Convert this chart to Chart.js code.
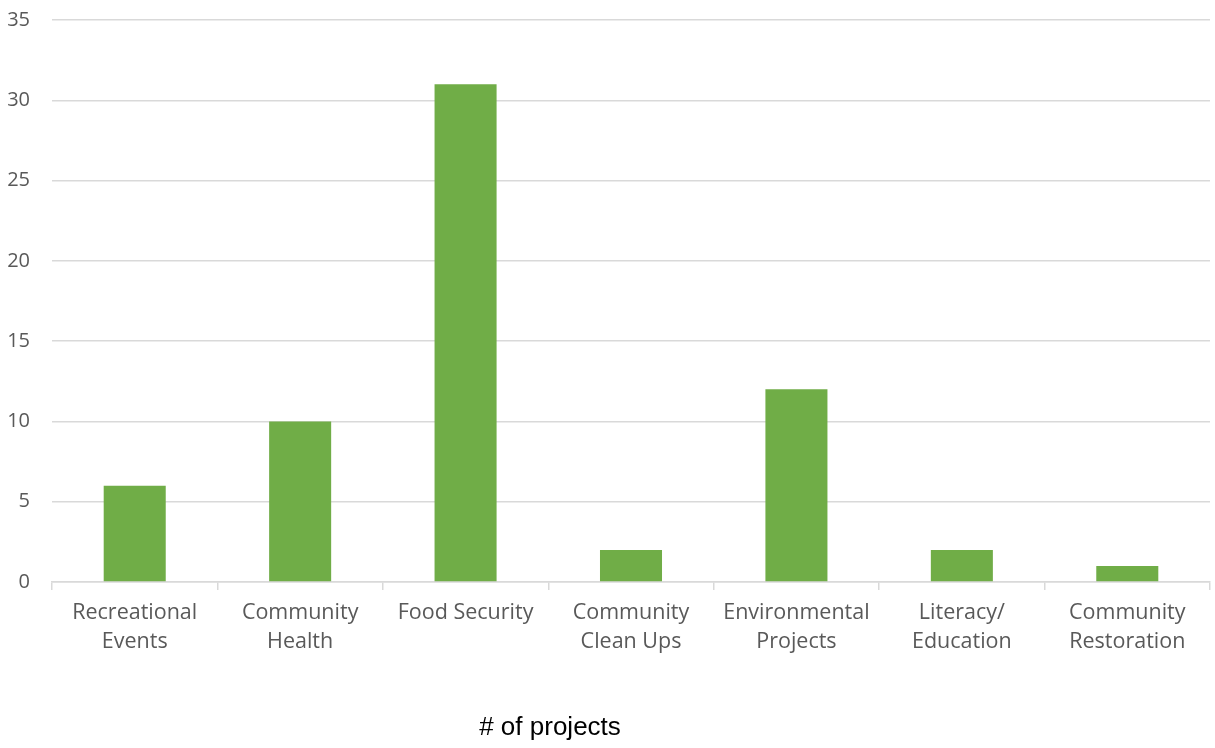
<!DOCTYPE html>
<html>
<head>
<meta charset="utf-8">
<script src="https://cdn.jsdelivr.net/npm/chart.js@4"></script>
<style>
  html, body { margin: 0; padding: 0; background: #fff; }
  #wrap { width: 1215px; height: 748px; }
</style>
</head>
<body>
<div id="wrap"><canvas id="projectsChart" width="1215" height="748"></canvas></div>
<script>
// Kategori proyek dan jumlahnya
const categories = [
    ['Recreational', 'Events'],
    ['Community', 'Health'],
    'Food Security',
    ['Community', 'Clean Ups'],
    ['Environmental', 'Projects'],
    ['Literacy/', 'Education'],
    ['Community', 'Restoration']
];
const projectCounts = [6, 10, 31, 2, 12, 2, 1];
const yTicks = [0, 5, 10, 15, 20, 25, 30, 35];
const axisTitle = '# of projects';

// Label sumbu di bawah grafik
const bottomLabel = {
    id: 'bottomLabel',
    afterDraw(chart) {
        const c = chart.ctx;
        c.save();
        c.font = '26px "Liberation Sans", Arial, sans-serif';
        c.fillStyle = '#000';
        c.textAlign = 'center';
        c.textBaseline = 'middle';
        c.fillText(axisTitle, 550, 728);
        c.restore();
    }
};

const ctx = document.getElementById('projectsChart').getContext('2d');
new Chart(ctx, {
    type: 'bar',
    data: {
        labels: categories,
        datasets: [{
            label: axisTitle,
            data: projectCounts,
            backgroundColor: '#70ad47',
            barPercentage: 0.375,
            categoryPercentage: 1
        }]
    },
    options: {
        responsive: false,
        animation: false,
        layout: { padding: { top: 20, right: 5, left: 0, bottom: 0 } },
        plugins: {
            legend: { display: false },
            tooltip: { enabled: false }
        },
        scales: {
            x: {
                grid: {
                    offset: true,
                    drawOnChartArea: false,
                    drawTicks: true,
                    tickLength: 8,
                    color: '#d9d9d9',
                    lineWidth: 1.5
                },
                border: { color: '#d9d9d9', width: 1.5 },
                ticks: {
                    color: '#595959',
                    font: { family: '"Open Sans", sans-serif', size: 21.5, lineHeight: 1.35 },
                    padding: 8,
                    maxRotation: 0,
                    autoSkip: false
                },
                afterFit(axis) {
                    axis.height = 166;
                    axis.paddingLeft = 0;
                    axis.paddingRight = 0;
                }
            },
            y: {
                min: 0,
                max: 35,
                afterBuildTicks(axis) { axis.ticks = yTicks.map(v => ({ value: v })); },
                grid: { color: '#d9d9d9', lineWidth: 1.5, drawTicks: false },
                border: { display: false },
                ticks: {
                    color: '#595959',
                    font: { family: '"Open Sans", sans-serif', size: 20 },
                    padding: 22
                },
                afterFit(axis) {
                    axis.width = 52;
                    axis.paddingTop = 0;
                    axis.paddingBottom = 0;
                }
            }
        }
    },
    plugins: [bottomLabel]
});
</script>
</body>
</html>
